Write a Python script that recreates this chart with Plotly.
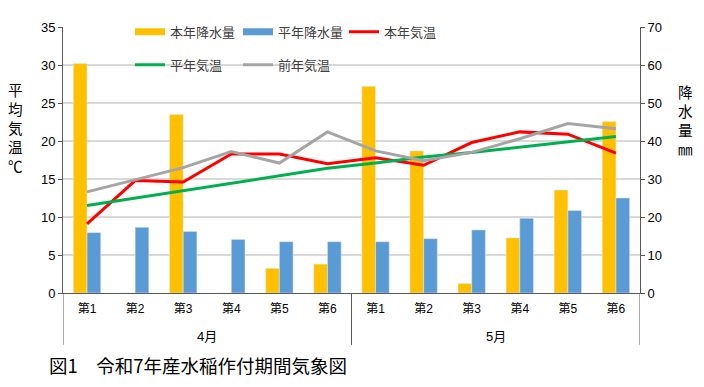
import plotly.graph_objects as go

months = ["4月"] * 6 + ["5月"] * 6
periods = ["第1", "第2", "第3", "第4", "第5", "第6"] * 2

rain_this_year = [60.4, 0, 47.0, 0, 6.5, 7.6, 54.4, 37.4, 2.5, 14.5, 27.1, 45.1]
rain_normal = [15.9, 17.3, 16.2, 14.1, 13.5, 13.5, 13.5, 14.3, 16.6, 19.7, 21.7, 25.0]
temp_this_year = [9.1, 14.8, 14.6, 18.3, 18.3, 17.0, 17.8, 16.8, 19.8, 21.2, 20.9, 18.4]
temp_normal = [11.5, 12.5, 13.4, 14.4, 15.4, 16.4, 17.1, 17.9, 18.5, 19.2, 19.9, 20.6]
temp_last_year = [13.3, 14.9, 16.5, 18.6, 17.1, 21.2, 18.7, 17.4, 18.5, 20.3, 22.3, 21.6]

left_ticks = [0, 5, 10, 15, 20, 25, 30, 35]
right_ticks = [0, 10, 20, 30, 40, 50, 60, 70]

idx = list(range(len(periods)))
FONT = "Liberation Sans, Noto Sans CJK JP, sans-serif"
AXIS = "#595959"
C_RAIN, C_RAIN_N = "#FFC000", "#5B9BD5"
C_T, C_TN, C_TL = "#FF0000", "#00B050", "#A5A5A5"

fig = go.Figure()
fig.add_trace(go.Bar(x=idx, y=rain_this_year, name="本年降水量", marker_color=C_RAIN,
                     yaxis="y", showlegend=False))
fig.add_trace(go.Bar(x=idx, y=rain_normal, name="平年降水量", marker_color=C_RAIN_N,
                     yaxis="y", showlegend=False))
# wide rectangular legend keys for the bar series (Excel style)
fig.add_trace(go.Scatter(x=[None], y=[None], name="本年降水量", mode="lines",
                         line=dict(color=C_RAIN, width=7), yaxis="y", legend="legend"))
fig.add_trace(go.Scatter(x=[None], y=[None], name="平年降水量", mode="lines",
                         line=dict(color=C_RAIN_N, width=7), yaxis="y", legend="legend2"))
fig.add_trace(go.Scatter(x=idx, y=temp_this_year, name="本年気温", mode="lines",
                         line=dict(color=C_T, width=3), yaxis="y2", legend="legend3"))
fig.add_trace(go.Scatter(x=idx, y=temp_normal, name="平年気温", mode="lines",
                         line=dict(color=C_TN, width=3), yaxis="y2", legend="legend4"))
fig.add_trace(go.Scatter(x=idx, y=temp_last_year, name="前年気温", mode="lines",
                         line=dict(color=C_TL, width=3), yaxis="y2", legend="legend5"))

legend_common = dict(orientation="h", xanchor="left", yanchor="middle",
                     bgcolor="rgba(0,0,0,0)", itemwidth=30,
                     font=dict(size=13, color="#404040"))
row1, row2 = 0.982, 0.858
col1, col2, col3 = 0.1161, 0.3033, 0.487

# the page body adds an 8px margin, so the figure is 8px smaller on top/left
fig.update_layout(
    width=696, height=379,
    margin=dict(l=55, r=64, t=19, b=94, autoexpand=False),
    paper_bgcolor="white", plot_bgcolor="white",
    font=dict(family=FONT, size=13, color="#000000"),
    barmode="group", bargap=0.43, bargroupgap=0,
    xaxis=dict(
        range=[-0.5, len(idx) - 0.5], tickvals=idx, ticktext=periods,
        showline=True, linecolor=AXIS, linewidth=1,
        ticks="outside", ticklen=5, tickcolor="rgba(0,0,0,0)",
        showgrid=False, zeroline=False, tickfont=dict(size=12, family=FONT),
    ),
    yaxis=dict(
        side="right", range=[0, 70], tickvals=right_ticks, showline=True,
        linecolor=AXIS, ticks="outside", ticklen=4, tickcolor=AXIS,
        showgrid=True, gridcolor="#D9D9D9", gridwidth=2, zeroline=False,
        tickfont=dict(size=13),
    ),
    yaxis2=dict(
        side="left", overlaying="y", range=[0, 35], tickvals=left_ticks,
        showline=True, linecolor=AXIS, ticks="outside", ticklen=4,
        tickcolor=AXIS, showgrid=False, zeroline=False,
        tickfont=dict(size=13),
    ),
    legend=dict(x=col1, y=row1, **legend_common),
    legend2=dict(x=col2, y=row1, **legend_common),
    legend3=dict(x=col3, y=row1, **legend_common),
    legend4=dict(x=col1, y=row2, **legend_common),
    legend5=dict(x=col2, y=row2, **legend_common),
    showlegend=True,
)

# month group labels and dividers derived from the month list
groups = []
for i, m in enumerate(months):
    if not groups or groups[-1][0] != m:
        groups.append([m, i, i])
    else:
        groups[-1][2] = i
bounds = [groups[0][1] - 0.5] + [g[2] + 0.5 for g in groups]
for b in bounds:
    fig.add_shape(type="line", xref="x", yref="paper", x0=b, x1=b, y0=0, y1=-0.195,
                  line=dict(color=AXIS, width=1))
for m, a, z in groups:
    fig.add_annotation(text=m, xref="x", yref="paper", x=(a + z) / 2, y=-0.165,
                       xanchor="center", yanchor="middle", showarrow=False,
                       font=dict(size=13, family=FONT))

fig.add_annotation(text="平<br>均<br>気<br>温<br>℃", xref="paper", yref="paper",
                   x=-0.083, y=0.618, xanchor="center", yanchor="middle", showarrow=False,
                   font=dict(size=14.6, family=FONT), align="center")
fig.add_annotation(text="降<br>水<br>量<br>㎜", xref="paper", yref="paper",
                   x=1.078, y=0.645, xanchor="center", yanchor="middle", showarrow=False,
                   font=dict(size=14.6, family=FONT), align="center")
fig.add_annotation(text="図1　令和7年産水稲作付期間気象図", xref="paper", yref="paper",
                   x=-0.027, y=-0.27, xanchor="left", yanchor="middle", showarrow=False,
                   font=dict(size=18.5, family="Noto Sans CJK JP"))

fig.write_html("out.html")
